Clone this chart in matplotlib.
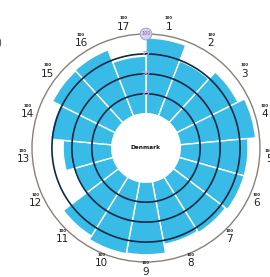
import numpy as np
import matplotlib
matplotlib.use("Agg")
import matplotlib.pyplot as plt

# sector labels and scores (0-100), clockwise from the top
sectors = [str(i) for i in range(1, 18)]
scores = [95, 74, 86, 95, 85, 85, 82, 80, 91, 92, 87, 50, 61, 77, 88, 89, 72]
ring_values = [25, 50, 75]
badge_labels = ["100", "75", "50", "25"]
badge_values = [100, 75, 50, 25]
country = "Denmark"

hole = 43
bar_color = "#38bbe6"
ring_color = "#0e2a47"
badge_color = "#b3a9dc"

plt.rcParams["font.family"] = ["Liberation Sans Narrow", "DejaVu Sans"]

fig = plt.figure(figsize=(2.7, 2.77), dpi=100)
ax = fig.add_axes([0.1185, 0.0542, 0.8444, 0.8231], projection="polar")
ax.set_theta_zero_location("N")
ax.set_theta_direction(-1)

n = len(sectors)
width = 2 * np.pi / n
theta = np.arange(n) * width + width / 2

ax.bar(theta, scores, width=width, bottom=hole, color=bar_color,
       edgecolor="white", linewidth=1.0, zorder=2)

# dark rings on top of the bars
t = np.linspace(0, 2 * np.pi, 400)
for v in ring_values:
    ax.plot(t, np.full_like(t, hole + v), color=ring_color, lw=1.2, zorder=3)

ax.set_ylim(0, hole + 100)
ax.set_xticks([])
ax.set_yticks([])
ax.grid(False)
ax.spines["polar"].set_color("#8c7f78")
ax.spines["polar"].set_linewidth(1.0)

# scale badges along the top line
for lab, v in zip(badge_labels, badge_values):
    if v == 100:
        ax.text(0, hole + v, lab, ha="center", va="center", fontsize=3.5,
                color="#6f64a8", zorder=5,
                bbox=dict(boxstyle="circle,pad=0.25", fc="#d8d2ee",
                          ec="#9d93cc", lw=0.6))
    else:
        ax.text(0, hole + v, lab, ha="center", va="center", fontsize=4.5,
                color=badge_color, fontweight="bold", zorder=5)

# sector numbers with small caption above
r_lab = 155
for th, lab in zip(theta, sectors):
    ax.text(th, r_lab, lab, ha="center", va="center", fontsize=7.5,
            color="#222222", clip_on=False)
    ax.annotate("100", xy=(th, r_lab), xytext=(0, 6), textcoords="offset points",
                ha="center", va="center", fontsize=2.8, color="#222222",
                fontweight="bold", annotation_clip=False)

ax.text(0, 0, country, ha="center", va="center", fontsize=4.2,
        fontweight="bold", color="#111111", zorder=5)

# panel letter, cut by the left edge as in the source
fig.text(-0.03, 0.845, "b)", fontsize=7, color="#444444", ha="left", va="center")

fig.savefig("out.png", dpi=100)
